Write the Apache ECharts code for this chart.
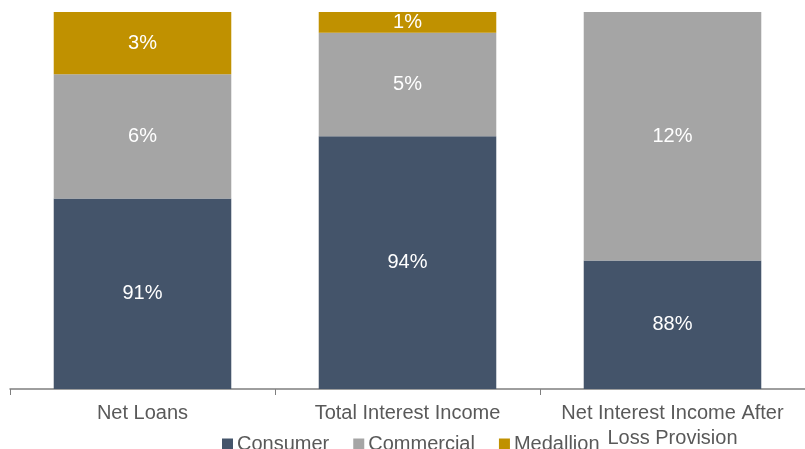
<!DOCTYPE html>
<html><head><meta charset="utf-8">
<script src="https://cdn.jsdelivr.net/npm/echarts@6/dist/echarts.min.js"></script>
<style>html,body{margin:0;padding:0;background:#fff}#c{width:805px;height:449px}</style>
</head><body><div id="c"></div>
<script>
const categories = ['Net Loans', 'Total Interest Income', 'Net Interest Income After\nLoss Provision'];
const consumer = [91, 94, 88];
const commercial = [6, 5, 12];
const medallion = [3, 1, 0];

const chart = echarts.init(document.getElementById('c'));
const font = '"Liberation Sans", Arial, sans-serif';
function ser(name, data, color) {
  return {
    name, type: 'bar', stack: 'a', data: data.map(v => v === 0 ? null : v),
    barWidth: '67%', itemStyle: { color },
    label: { show: true, position: 'inside', color: '#fff', fontSize: 20, fontFamily: font, formatter: p => p.value + '%' }
  };
}
chart.setOption({
  animation: false,
  grid: { left: 10, right: 0, top: 12, bottom: 60, containLabel: false, outerBoundsMode: 'none' },
  legend: {
    top: 429, left: 217, itemWidth: 11, itemHeight: 11, itemGap: 24,
    icon: 'rect',
    textStyle: { color: '#595959', fontSize: 20, fontFamily: font, padding: [0, 0, 0, -1] },
    data: ['Consumer', 'Commercial', 'Medallion']
  },
  xAxis: {
    type: 'category', data: categories,
    axisLine: { lineStyle: { color: '#7f7f7f', width: 1.5 } },
    axisTick: { show: true, length: 6, interval: 0, lineStyle: { color: '#7f7f7f' } },
    axisLabel: { color: '#595959', fontSize: 20, fontFamily: font, margin: 12, lineHeight: 25, interval: 0, hideOverlap: false }
  },
  yAxis: { type: 'value', min: 81.8, max: 100, show: false, splitLine: { show: false } },
  series: [
    ser('Consumer', consumer, '#44546a'),
    ser('Commercial', commercial, '#a5a5a5'),
    ser('Medallion', medallion, '#c09100')
  ]
});
</script></body></html>
